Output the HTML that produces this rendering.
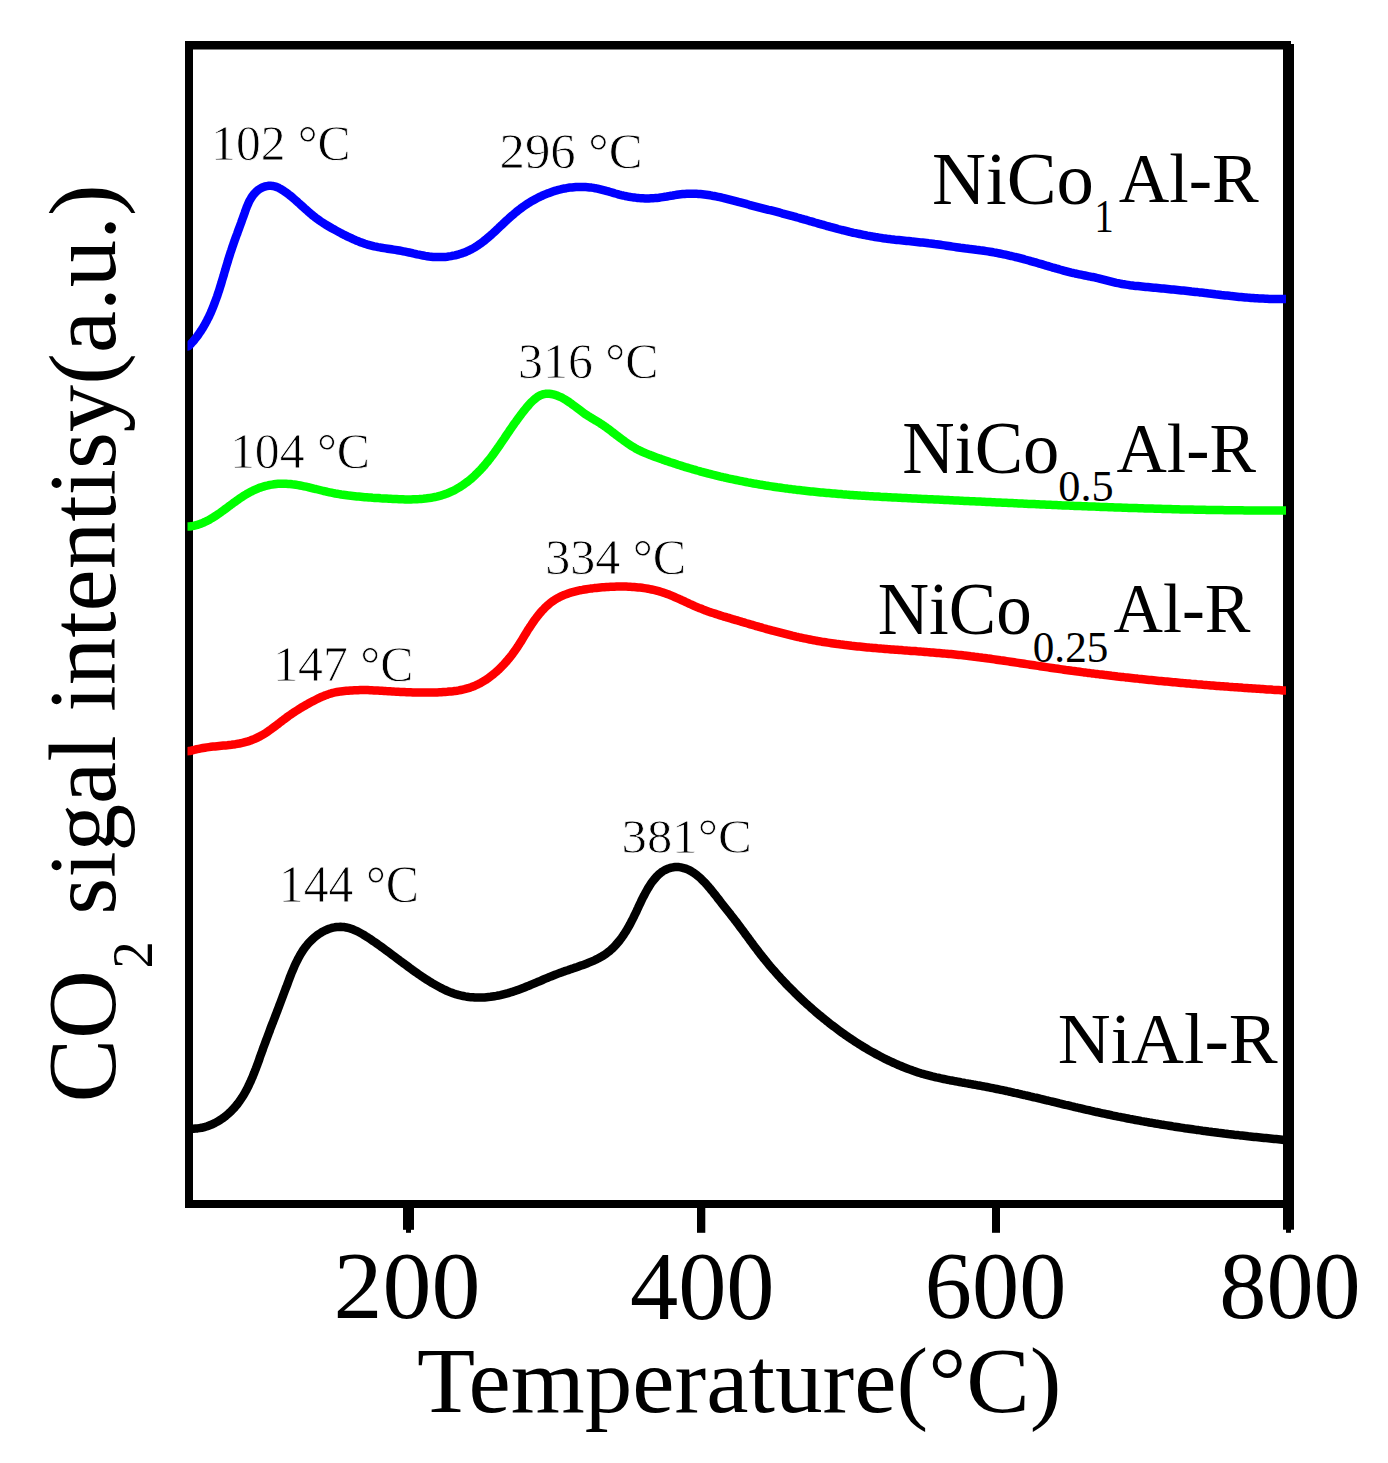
<!DOCTYPE html>
<html><head><meta charset="utf-8"><style>
html,body{margin:0;padding:0;background:#fff;}
svg{display:block;}
text{font-family:"Liberation Serif", serif;fill:#000;}
</style></head><body>
<svg width="1388" height="1463" viewBox="0 0 1388 1463">
<rect width="1388" height="1463" fill="#fff"/>
<text transform="matrix(0.9715 0.0000 0.0000 0.9886 211.11 159.71)" font-size="51" stroke="#fff" stroke-width="0.80">102 °C</text>
<text transform="matrix(0.9957 0.0000 0.0000 1.0114 499.51 168.39)" font-size="51" stroke="#fff" stroke-width="0.80">296 °C</text>
<text transform="matrix(0.9759 0.0000 0.0000 1.0000 229.90 468.00)" font-size="51" stroke="#fff" stroke-width="0.80">104 °C</text>
<text transform="matrix(0.9784 0.0000 0.0000 1.0114 518.04 378.39)" font-size="51" stroke="#fff" stroke-width="0.80">316 °C</text>
<text transform="matrix(0.9827 0.0000 0.0000 1.0114 545.13 574.49)" font-size="51" stroke="#fff" stroke-width="0.80">334 °C</text>
<text transform="matrix(0.9759 0.0000 0.0000 1.0114 273.20 680.99)" font-size="51" stroke="#fff" stroke-width="0.80">147 °C</text>
<text transform="matrix(0.9759 0.0000 0.0000 1.0143 278.80 901.69)" font-size="51" stroke="#fff" stroke-width="0.80">144 °C</text>
<text transform="matrix(0.9944 0.0000 0.0000 0.9457 621.61 853.15)" font-size="51" stroke="#fff" stroke-width="0.80">381°C</text>
<text transform="matrix(1.0096 0.0000 0.0000 1.0137 932.08 203.69)" font-size="74">NiCo</text>
<text transform="matrix(0.8933 0.0000 0.0000 1.0571 1094.43 231.60)" font-size="43">1</text>
<text transform="matrix(0.9469 0.0000 0.0000 0.9423 1118.65 202.00)" font-size="74">Al-R</text>
<text transform="matrix(0.9808 0.0000 0.0000 1.0000 902.14 473.00)" font-size="74">NiCo</text>
<text transform="matrix(1.0300 0.0000 0.0000 1.0464 1058.24 501.40)" font-size="43">0.5</text>
<text transform="matrix(0.9429 0.0000 0.0000 0.9385 1116.46 471.70)" font-size="74">Al-R</text>
<text transform="matrix(0.9603 0.0000 0.0000 1.0039 877.78 634.30)" font-size="74">NiCo</text>
<text transform="matrix(1.0042 0.0000 0.0000 1.0500 1032.79 662.30)" font-size="43">0.25</text>
<text transform="matrix(0.9259 0.0000 0.0000 0.9308 1113.47 632.40)" font-size="74">Al-R</text>
<text transform="matrix(0.9905 0.0000 0.0000 0.9846 1057.82 1063.40)" font-size="74">NiAl-R</text>
<text transform="matrix(1.0206 0.0000 0.0000 0.9985 333.42 1318.40)" font-size="96">200</text>
<text transform="matrix(1.0051 0.0000 0.0000 1.0046 629.89 1318.80)" font-size="96">400</text>
<text transform="matrix(0.9824 0.0000 0.0000 0.9985 924.87 1318.40)" font-size="96">600</text>
<text transform="matrix(0.9816 0.0000 0.0000 0.9985 1219.27 1318.40)" font-size="96">800</text>
<text transform="matrix(1.0020 0.0000 0.0000 0.9802 416.90 1411.90)" font-size="95">Temperature(°C)</text>
<text transform="matrix(0.0000 -1.0154 1.0365 0.0000 115.46 1102.56)" font-size="94">CO</text>
<text transform="matrix(0.0000 -0.9913 1.0528 0.0000 151.90 968.48)" font-size="55">2</text>
<text transform="matrix(0.0000 -1.0103 1.0224 0.0000 115.05 914.74)" font-size="94">sigal intentisy(a.u.)</text>
<clipPath id="pa"><rect x="187.5" y="49" width="1098.5" height="1151"/></clipPath>
<g fill="#000">
<rect x="185" y="41" width="1106" height="8.5"/>
<rect x="185" y="41" width="8" height="1167"/>
<rect x="1283" y="44" width="11" height="1164"/>
<rect x="185" y="1200" width="1109" height="8"/>
<rect x="403" y="1206" width="11" height="23.8"/>
<rect x="406" y="1206" width="5" height="26.8"/>
<rect x="697" y="1206" width="8.3" height="26.8"/>
<rect x="992" y="1206" width="8" height="26.8"/>
<rect x="1283" y="1206" width="11" height="23.7"/>
<rect x="1286" y="1206" width="5" height="26.8"/>
</g>
<g clip-path="url(#pa)">
<path d="M183.3 347.5 L188.7 346.1 L190.2 344.6 L191.5 343.1 L192.9 341.6 L194.2 340.1 L195.4 338.5 L196.7 337.0 L197.9 335.4 L199.0 333.7 L200.1 332.1 L201.2 330.5 L202.3 328.8 L203.3 327.1 L204.3 325.4 L205.3 323.7 L206.2 321.9 L207.1 320.2 L208.0 318.4 L208.9 316.7 L209.7 314.9 L210.6 313.1 L211.4 311.2 L212.1 309.4 L212.9 307.6 L213.6 305.7 L214.3 303.9 L215.0 302.0 L215.7 300.1 L216.4 298.3 L217.1 296.4 L217.7 294.5 L218.3 292.6 L219.0 290.7 L219.6 288.8 L220.2 286.8 L220.8 284.9 L221.4 283.0 L221.9 281.1 L222.5 279.1 L223.1 277.2 L223.7 275.3 L224.2 273.4 L224.8 271.4 L225.4 269.5 L225.9 267.6 L226.5 265.6 L227.1 263.7 L227.7 261.8 L228.2 259.9 L228.8 258.0 L229.4 256.1 L230.0 254.2 L230.6 252.3 L231.3 250.4 L231.9 248.5 L232.5 246.6 L233.2 244.8 L233.8 242.9 L234.5 241.0 L235.1 239.2 L235.8 237.3 L236.5 235.4 L237.2 233.6 L237.8 231.7 L238.5 229.9 L239.2 228.0 L239.9 226.1 L240.6 224.3 L241.3 222.4 L241.9 220.5 L242.6 218.6 L243.3 216.7 L244.0 214.8 L244.7 212.9 L245.3 211.0 L246.0 209.1 L246.7 207.2 L247.5 205.3 L248.3 203.5 L249.1 201.6 L250.1 199.8 L251.1 198.1 L252.2 196.4 L253.4 194.8 L254.7 193.2 L256.2 191.7 L257.7 190.3 L259.4 189.1 L261.1 188.1 L263.0 187.2 L264.9 186.5 L266.8 186.1 L268.8 185.8 L270.7 185.8 L272.6 185.9 L274.4 186.3 L276.2 186.9 L278.0 187.5 L279.6 188.4 L281.3 189.3 L282.9 190.3 L284.5 191.4 L286.1 192.5 L287.6 193.6 L289.1 194.8 L290.7 196.0 L292.2 197.3 L293.7 198.6 L295.2 199.9 L296.7 201.2 L298.2 202.6 L299.7 203.9 L301.2 205.3 L302.8 206.7 L304.3 208.1 L305.9 209.5 L307.5 210.9 L309.0 212.3 L310.6 213.6 L312.2 215.0 L313.9 216.3 L315.5 217.6 L317.1 218.8 L318.8 220.0 L320.4 221.2 L322.1 222.3 L323.8 223.4 L325.5 224.5 L327.2 225.5 L328.9 226.5 L330.6 227.5 L332.3 228.5 L334.1 229.4 L335.8 230.4 L337.6 231.4 L339.3 232.3 L341.1 233.2 L342.9 234.2 L344.7 235.1 L346.4 236.0 L348.2 236.8 L350.1 237.7 L351.9 238.5 L353.7 239.4 L355.5 240.2 L357.4 240.9 L359.2 241.7 L361.1 242.4 L362.9 243.0 L364.8 243.7 L366.7 244.3 L368.5 244.8 L370.4 245.3 L372.3 245.8 L374.2 246.3 L376.1 246.7 L378.0 247.1 L379.9 247.4 L381.8 247.8 L383.8 248.1 L385.7 248.4 L387.6 248.7 L389.6 249.0 L391.5 249.3 L393.4 249.6 L395.4 249.9 L397.4 250.2 L399.3 250.5 L401.3 250.9 L403.2 251.3 L405.2 251.7 L407.2 252.1 L409.2 252.5 L411.1 252.9 L413.1 253.4 L415.1 253.8 L417.1 254.3 L419.1 254.7 L421.1 255.1 L423.1 255.5 L425.1 255.9 L427.1 256.2 L429.1 256.5 L431.1 256.7 L433.1 256.9 L435.1 257.0 L437.1 257.1 L439.1 257.1 L441.1 257.1 L443.1 257.0 L445.1 256.9 L447.1 256.7 L449.1 256.4 L451.1 256.1 L453.0 255.7 L455.0 255.3 L456.9 254.8 L458.8 254.3 L460.7 253.7 L462.6 253.1 L464.5 252.4 L466.3 251.7 L468.1 250.9 L469.9 250.0 L471.7 249.1 L473.5 248.1 L475.2 247.1 L476.9 246.0 L478.5 244.9 L480.2 243.8 L481.8 242.6 L483.4 241.4 L485.0 240.1 L486.6 238.8 L488.1 237.5 L489.6 236.2 L491.2 234.9 L492.7 233.5 L494.2 232.1 L495.6 230.8 L497.1 229.4 L498.6 228.0 L500.0 226.6 L501.5 225.3 L502.9 223.9 L504.3 222.6 L505.8 221.2 L507.2 219.9 L508.7 218.6 L510.1 217.2 L511.6 215.9 L513.1 214.7 L514.6 213.4 L516.1 212.1 L517.6 210.9 L519.2 209.7 L520.7 208.5 L522.3 207.3 L524.0 206.1 L525.6 205.0 L527.3 203.9 L529.0 202.8 L530.8 201.7 L532.5 200.7 L534.3 199.7 L536.1 198.7 L537.9 197.8 L539.7 196.9 L541.6 196.0 L543.4 195.2 L545.3 194.4 L547.2 193.6 L549.1 192.9 L551.0 192.2 L552.9 191.5 L554.8 190.9 L556.7 190.4 L558.6 189.8 L560.5 189.4 L562.4 188.9 L564.3 188.5 L566.3 188.2 L568.2 187.8 L570.1 187.6 L572.0 187.4 L574.0 187.2 L575.9 187.0 L577.9 187.0 L579.8 186.9 L581.7 186.9 L583.7 187.0 L585.6 187.1 L587.6 187.2 L589.6 187.4 L591.5 187.6 L593.5 187.9 L595.4 188.3 L597.4 188.6 L599.4 189.1 L601.3 189.6 L603.3 190.1 L605.3 190.6 L607.3 191.2 L609.2 191.7 L611.2 192.3 L613.2 192.9 L615.2 193.5 L617.2 194.0 L619.1 194.6 L621.1 195.1 L623.1 195.5 L625.1 196.0 L627.1 196.4 L629.1 196.8 L631.1 197.1 L633.1 197.4 L635.0 197.6 L637.0 197.9 L639.0 198.1 L641.0 198.2 L643.0 198.3 L645.0 198.4 L647.0 198.4 L649.0 198.4 L651.0 198.3 L653.0 198.2 L654.9 198.1 L656.9 197.9 L658.9 197.7 L660.9 197.4 L662.9 197.1 L664.9 196.8 L666.9 196.5 L668.8 196.1 L670.8 195.8 L672.8 195.5 L674.8 195.1 L676.8 194.8 L678.8 194.5 L680.7 194.3 L682.7 194.1 L684.7 193.9 L686.7 193.8 L688.6 193.7 L690.6 193.7 L692.6 193.7 L694.5 193.7 L696.5 193.8 L698.4 193.9 L700.4 194.1 L702.4 194.3 L704.3 194.5 L706.3 194.7 L708.2 195.0 L710.2 195.3 L712.1 195.7 L714.1 196.0 L716.0 196.4 L718.0 196.8 L719.9 197.2 L721.9 197.7 L723.8 198.1 L725.8 198.6 L727.7 199.1 L729.7 199.6 L731.6 200.1 L733.6 200.6 L735.5 201.1 L737.4 201.6 L739.4 202.2 L741.3 202.7 L743.2 203.2 L745.2 203.7 L747.1 204.2 L749.1 204.8 L751.0 205.3 L752.9 205.8 L754.9 206.3 L756.8 206.8 L758.7 207.3 L760.7 207.8 L762.6 208.3 L764.5 208.8 L766.5 209.3 L768.4 209.8 L770.3 210.2 L772.2 210.7 L774.2 211.2 L776.1 211.7 L778.0 212.2 L780.0 212.7 L781.9 213.3 L783.8 213.8 L785.8 214.3 L787.7 214.8 L789.6 215.3 L791.5 215.8 L793.5 216.4 L795.4 216.9 L797.3 217.5 L799.3 218.0 L801.2 218.6 L803.1 219.1 L805.1 219.7 L807.0 220.2 L808.9 220.8 L810.9 221.3 L812.8 221.9 L814.7 222.5 L816.7 223.0 L818.6 223.6 L820.5 224.1 L822.5 224.7 L824.4 225.2 L826.3 225.8 L828.3 226.3 L830.2 226.9 L832.2 227.4 L834.1 227.9 L836.0 228.4 L838.0 229.0 L839.9 229.5 L841.9 230.0 L843.8 230.4 L845.8 230.9 L847.7 231.4 L849.6 231.9 L851.6 232.3 L853.5 232.8 L855.5 233.2 L857.5 233.6 L859.4 234.0 L861.4 234.4 L863.3 234.8 L865.3 235.2 L867.2 235.6 L869.2 235.9 L871.2 236.3 L873.1 236.6 L875.1 237.0 L877.1 237.3 L879.0 237.6 L881.0 237.9 L883.0 238.2 L884.9 238.4 L886.9 238.7 L888.9 238.9 L890.9 239.2 L892.9 239.4 L894.8 239.7 L896.8 239.9 L898.8 240.1 L900.8 240.3 L902.8 240.5 L904.7 240.7 L906.7 240.9 L908.7 241.1 L910.7 241.3 L912.7 241.6 L914.7 241.8 L916.7 242.0 L918.6 242.2 L920.6 242.4 L922.6 242.6 L924.6 242.8 L926.6 243.0 L928.6 243.3 L930.6 243.5 L932.6 243.7 L934.6 244.0 L936.5 244.2 L938.5 244.5 L940.5 244.8 L942.5 245.1 L944.5 245.4 L946.5 245.7 L948.5 246.0 L950.4 246.3 L952.4 246.6 L954.4 246.9 L956.4 247.2 L958.4 247.5 L960.4 247.8 L962.3 248.0 L964.3 248.3 L966.3 248.6 L968.3 248.8 L970.2 249.1 L972.2 249.3 L974.2 249.5 L976.2 249.8 L978.1 250.0 L980.1 250.3 L982.1 250.5 L984.0 250.8 L986.0 251.1 L987.9 251.4 L989.9 251.7 L991.9 252.0 L993.8 252.4 L995.8 252.7 L997.7 253.1 L999.7 253.5 L1001.6 253.9 L1003.6 254.3 L1005.5 254.7 L1007.4 255.1 L1009.4 255.6 L1011.3 256.0 L1013.3 256.5 L1015.2 257.0 L1017.1 257.4 L1019.1 257.9 L1021.0 258.4 L1023.0 258.9 L1024.9 259.5 L1026.8 260.0 L1028.8 260.5 L1030.7 261.1 L1032.6 261.6 L1034.6 262.2 L1036.5 262.7 L1038.4 263.3 L1040.4 263.8 L1042.3 264.4 L1044.2 265.0 L1046.2 265.6 L1048.1 266.1 L1050.0 266.7 L1052.0 267.3 L1053.9 267.8 L1055.8 268.4 L1057.8 268.9 L1059.7 269.5 L1061.6 270.0 L1063.6 270.6 L1065.5 271.1 L1067.4 271.6 L1069.4 272.1 L1071.3 272.6 L1073.3 273.0 L1075.2 273.5 L1077.1 273.9 L1079.1 274.3 L1081.0 274.7 L1083.0 275.1 L1084.9 275.5 L1086.9 275.9 L1088.8 276.3 L1090.8 276.7 L1092.7 277.0 L1094.7 277.4 L1096.6 277.9 L1098.6 278.3 L1100.5 278.8 L1102.5 279.3 L1104.5 279.8 L1106.4 280.3 L1108.4 280.8 L1110.3 281.3 L1112.3 281.8 L1114.3 282.3 L1116.2 282.8 L1118.2 283.2 L1120.2 283.6 L1122.1 284.0 L1124.1 284.3 L1126.1 284.6 L1128.0 284.9 L1130.0 285.2 L1132.0 285.4 L1133.9 285.7 L1135.9 285.9 L1137.9 286.1 L1139.9 286.3 L1141.8 286.5 L1143.8 286.7 L1145.8 286.9 L1147.8 287.1 L1149.7 287.3 L1151.7 287.5 L1153.7 287.7 L1155.7 287.8 L1157.7 288.0 L1159.6 288.2 L1161.6 288.4 L1163.6 288.6 L1165.6 288.8 L1167.6 289.0 L1169.6 289.2 L1171.5 289.4 L1173.5 289.6 L1175.5 289.8 L1177.5 290.0 L1179.5 290.2 L1181.5 290.4 L1183.5 290.6 L1185.4 290.8 L1187.4 291.0 L1189.4 291.2 L1191.4 291.5 L1193.4 291.7 L1195.4 291.9 L1197.4 292.1 L1199.4 292.4 L1201.4 292.6 L1203.4 292.8 L1205.3 293.1 L1207.3 293.3 L1209.3 293.6 L1211.3 293.8 L1213.3 294.0 L1215.3 294.3 L1217.3 294.5 L1219.3 294.7 L1221.3 295.0 L1223.3 295.2 L1225.3 295.4 L1227.3 295.6 L1229.3 295.8 L1231.3 296.1 L1233.3 296.3 L1235.3 296.5 L1237.3 296.7 L1239.2 296.9 L1241.2 297.0 L1243.2 297.2 L1245.2 297.4 L1247.2 297.6 L1249.2 297.7 L1251.2 297.9 L1253.2 298.0 L1255.2 298.2 L1257.2 298.3 L1259.2 298.4 L1261.2 298.5 L1263.2 298.6 L1265.2 298.7 L1267.2 298.8 L1269.2 298.9 L1271.2 298.9 L1273.2 299.0 L1275.2 299.0 L1277.2 299.0 L1279.1 299.0 L1281.1 299.0 L1283.1 299.0 L1285.1 298.9 L1290.0 298.9" fill="none" stroke="#0000ff" stroke-width="8.5" stroke-linejoin="round" stroke-linecap="butt"/>
<path d="M183.5 526.7 L189.4 526.5 L191.4 526.2 L193.4 525.9 L195.3 525.4 L197.2 524.9 L199.1 524.2 L201.0 523.6 L202.9 522.8 L204.7 522.0 L206.6 521.1 L208.4 520.2 L210.2 519.2 L211.9 518.2 L213.6 517.1 L215.4 516.0 L217.0 514.9 L218.7 513.8 L220.4 512.6 L222.0 511.4 L223.7 510.2 L225.3 509.0 L226.9 507.8 L228.5 506.6 L230.1 505.5 L231.6 504.3 L233.2 503.1 L234.8 502.0 L236.4 500.8 L238.0 499.7 L239.6 498.6 L241.2 497.5 L242.8 496.4 L244.4 495.4 L246.1 494.4 L247.7 493.4 L249.4 492.5 L251.1 491.6 L252.9 490.7 L254.7 489.9 L256.5 489.1 L258.3 488.3 L260.2 487.6 L262.1 487.0 L264.1 486.4 L266.0 485.8 L268.0 485.4 L270.0 484.9 L272.1 484.6 L274.1 484.3 L276.1 484.0 L278.1 483.8 L280.1 483.7 L282.2 483.7 L284.2 483.7 L286.2 483.8 L288.2 483.9 L290.2 484.0 L292.2 484.3 L294.1 484.5 L296.1 484.8 L298.1 485.1 L300.1 485.5 L302.1 485.9 L304.0 486.3 L306.0 486.7 L308.0 487.1 L309.9 487.6 L311.9 488.1 L313.8 488.6 L315.8 489.0 L317.8 489.5 L319.7 490.0 L321.7 490.5 L323.6 491.0 L325.6 491.4 L327.5 491.9 L329.5 492.3 L331.4 492.7 L333.4 493.1 L335.3 493.5 L337.3 493.8 L339.2 494.1 L341.2 494.5 L343.1 494.7 L345.1 495.0 L347.0 495.3 L349.0 495.6 L350.9 495.8 L352.9 496.0 L354.9 496.2 L356.8 496.4 L358.8 496.6 L360.8 496.8 L362.7 497.0 L364.7 497.2 L366.7 497.3 L368.7 497.5 L370.7 497.6 L372.6 497.8 L374.6 497.9 L376.6 498.0 L378.6 498.1 L380.6 498.3 L382.7 498.4 L384.7 498.5 L386.7 498.6 L388.7 498.7 L390.7 498.8 L392.8 498.9 L394.8 499.0 L396.8 499.1 L398.9 499.2 L400.9 499.3 L403.0 499.3 L405.0 499.4 L407.0 499.4 L409.1 499.4 L411.1 499.4 L413.1 499.3 L415.1 499.3 L417.2 499.2 L419.2 499.1 L421.2 498.9 L423.2 498.8 L425.2 498.6 L427.2 498.3 L429.1 498.1 L431.1 497.8 L433.0 497.4 L435.0 497.0 L436.9 496.6 L438.8 496.1 L440.7 495.6 L442.6 495.0 L444.5 494.4 L446.3 493.8 L448.2 493.0 L450.0 492.3 L451.8 491.4 L453.6 490.6 L455.4 489.7 L457.1 488.7 L458.8 487.7 L460.5 486.6 L462.2 485.5 L463.9 484.4 L465.5 483.2 L467.1 482.0 L468.7 480.8 L470.3 479.5 L471.8 478.2 L473.3 476.9 L474.8 475.5 L476.2 474.1 L477.6 472.7 L479.0 471.3 L480.4 469.9 L481.8 468.4 L483.1 466.9 L484.4 465.5 L485.7 463.9 L486.9 462.4 L488.2 460.9 L489.4 459.3 L490.6 457.8 L491.8 456.2 L493.0 454.6 L494.2 453.0 L495.3 451.4 L496.5 449.8 L497.6 448.1 L498.8 446.5 L499.9 444.9 L501.0 443.2 L502.1 441.6 L503.3 439.9 L504.4 438.3 L505.5 436.6 L506.6 434.9 L507.7 433.3 L508.9 431.6 L510.0 429.9 L511.1 428.3 L512.3 426.6 L513.4 425.0 L514.6 423.3 L515.8 421.7 L517.0 420.0 L518.2 418.4 L519.4 416.7 L520.6 415.1 L521.8 413.5 L523.1 411.8 L524.4 410.2 L525.7 408.6 L527.0 407.0 L528.4 405.5 L529.7 403.9 L531.1 402.4 L532.6 401.0 L534.1 399.6 L535.6 398.4 L537.1 397.2 L538.7 396.2 L540.3 395.3 L542.0 394.7 L543.8 394.2 L545.5 393.8 L547.4 393.7 L549.3 393.8 L551.1 394.0 L553.1 394.4 L555.0 394.9 L556.9 395.5 L558.8 396.3 L560.7 397.1 L562.6 398.1 L564.4 399.1 L566.2 400.2 L568.0 401.4 L569.8 402.6 L571.5 403.8 L573.2 405.1 L575.0 406.4 L576.6 407.6 L578.3 408.9 L580.0 410.2 L581.6 411.4 L583.2 412.6 L584.8 413.8 L586.4 414.8 L587.9 415.9 L589.5 416.8 L591.0 417.8 L592.6 418.7 L594.1 419.6 L595.6 420.5 L597.2 421.4 L598.7 422.3 L600.2 423.3 L601.8 424.3 L603.4 425.4 L604.9 426.5 L606.5 427.6 L608.1 428.8 L609.8 430.0 L611.4 431.3 L613.0 432.5 L614.7 433.8 L616.3 435.1 L618.0 436.3 L619.7 437.6 L621.4 438.9 L623.1 440.1 L624.8 441.4 L626.5 442.6 L628.2 443.8 L630.0 445.0 L631.7 446.1 L633.5 447.2 L635.2 448.2 L637.0 449.2 L638.8 450.1 L640.6 451.0 L642.4 451.8 L644.2 452.6 L646.0 453.4 L647.8 454.1 L649.7 454.9 L651.5 455.5 L653.3 456.2 L655.2 456.9 L657.0 457.6 L658.9 458.3 L660.8 458.9 L662.6 459.6 L664.5 460.2 L666.4 460.9 L668.3 461.5 L670.2 462.2 L672.1 462.8 L674.0 463.4 L675.9 464.0 L677.8 464.7 L679.7 465.3 L681.6 465.9 L683.5 466.5 L685.4 467.1 L687.4 467.6 L689.3 468.2 L691.2 468.8 L693.2 469.4 L695.1 469.9 L697.0 470.5 L699.0 471.0 L700.9 471.6 L702.9 472.1 L704.8 472.6 L706.8 473.1 L708.7 473.7 L710.7 474.2 L712.6 474.7 L714.6 475.1 L716.5 475.6 L718.5 476.1 L720.4 476.6 L722.4 477.0 L724.3 477.5 L726.3 477.9 L728.2 478.4 L730.2 478.8 L732.1 479.2 L734.1 479.6 L736.1 480.0 L738.0 480.4 L740.0 480.8 L741.9 481.2 L743.9 481.6 L745.9 482.0 L747.8 482.4 L749.8 482.7 L751.7 483.1 L753.7 483.5 L755.7 483.8 L757.6 484.1 L759.6 484.5 L761.6 484.8 L763.5 485.1 L765.5 485.5 L767.5 485.8 L769.4 486.1 L771.4 486.4 L773.4 486.7 L775.3 487.0 L777.3 487.3 L779.3 487.5 L781.2 487.8 L783.2 488.1 L785.2 488.4 L787.2 488.6 L789.1 488.9 L791.1 489.1 L793.1 489.4 L795.0 489.6 L797.0 489.9 L799.0 490.1 L801.0 490.3 L803.0 490.6 L804.9 490.8 L806.9 491.0 L808.9 491.2 L810.9 491.4 L812.8 491.6 L814.8 491.8 L816.8 492.0 L818.8 492.2 L820.8 492.4 L822.7 492.6 L824.7 492.8 L826.7 493.0 L828.7 493.1 L830.7 493.3 L832.7 493.5 L834.6 493.6 L836.6 493.8 L838.6 494.0 L840.6 494.1 L842.6 494.3 L844.6 494.4 L846.5 494.6 L848.5 494.7 L850.5 494.9 L852.5 495.0 L854.5 495.2 L856.5 495.3 L858.5 495.4 L860.5 495.6 L862.4 495.7 L864.4 495.8 L866.4 495.9 L868.4 496.1 L870.4 496.2 L872.4 496.3 L874.4 496.4 L876.4 496.5 L878.4 496.6 L880.4 496.8 L882.4 496.9 L884.4 497.0 L886.3 497.1 L888.3 497.2 L890.3 497.3 L892.3 497.4 L894.3 497.5 L896.3 497.6 L898.3 497.7 L900.3 497.8 L902.3 497.9 L904.3 498.0 L906.3 498.1 L908.3 498.2 L910.3 498.3 L912.3 498.4 L914.3 498.5 L916.3 498.6 L918.3 498.7 L920.3 498.8 L922.3 498.9 L924.3 499.0 L926.3 499.1 L928.3 499.2 L930.3 499.2 L932.3 499.3 L934.3 499.4 L936.3 499.5 L938.3 499.6 L940.3 499.7 L942.3 499.8 L944.3 499.9 L946.3 500.0 L948.3 500.1 L950.3 500.2 L952.3 500.3 L954.3 500.4 L956.3 500.5 L958.3 500.6 L960.3 500.7 L962.3 500.8 L964.3 500.9 L966.3 501.0 L968.3 501.1 L970.3 501.2 L972.3 501.2 L974.3 501.3 L976.3 501.4 L978.3 501.5 L980.3 501.6 L982.3 501.7 L984.3 501.8 L986.3 501.9 L988.3 502.0 L990.3 502.1 L992.3 502.2 L994.4 502.3 L996.4 502.4 L998.4 502.5 L1000.4 502.6 L1002.4 502.7 L1004.4 502.8 L1006.4 502.8 L1008.4 502.9 L1010.4 503.0 L1012.4 503.1 L1014.4 503.2 L1016.4 503.3 L1018.4 503.4 L1020.4 503.5 L1022.4 503.6 L1024.4 503.7 L1026.4 503.8 L1028.4 503.9 L1030.5 503.9 L1032.5 504.0 L1034.5 504.1 L1036.5 504.2 L1038.5 504.3 L1040.5 504.4 L1042.5 504.5 L1044.5 504.6 L1046.5 504.7 L1048.5 504.7 L1050.5 504.8 L1052.5 504.9 L1054.5 505.0 L1056.5 505.1 L1058.5 505.2 L1060.5 505.3 L1062.6 505.4 L1064.6 505.4 L1066.6 505.5 L1068.6 505.6 L1070.6 505.7 L1072.6 505.8 L1074.6 505.9 L1076.6 505.9 L1078.6 506.0 L1080.6 506.1 L1082.6 506.2 L1084.6 506.3 L1086.6 506.3 L1088.6 506.4 L1090.6 506.5 L1092.6 506.6 L1094.6 506.6 L1096.6 506.7 L1098.7 506.8 L1100.7 506.9 L1102.7 506.9 L1104.7 507.0 L1106.7 507.1 L1108.7 507.2 L1110.7 507.2 L1112.7 507.3 L1114.7 507.4 L1116.7 507.5 L1118.7 507.5 L1120.7 507.6 L1122.7 507.7 L1124.7 507.7 L1126.7 507.8 L1128.7 507.9 L1130.7 507.9 L1132.7 508.0 L1134.7 508.1 L1136.7 508.1 L1138.7 508.2 L1140.7 508.3 L1142.7 508.3 L1144.7 508.4 L1146.7 508.4 L1148.7 508.5 L1150.7 508.6 L1152.7 508.6 L1154.7 508.7 L1156.7 508.7 L1158.7 508.8 L1160.7 508.8 L1162.7 508.9 L1164.7 509.0 L1166.7 509.0 L1168.7 509.1 L1170.7 509.1 L1172.7 509.2 L1174.7 509.2 L1176.7 509.3 L1178.7 509.3 L1180.7 509.4 L1182.7 509.4 L1184.7 509.4 L1186.7 509.5 L1188.7 509.5 L1190.7 509.6 L1192.7 509.6 L1194.7 509.7 L1196.7 509.7 L1198.7 509.7 L1200.7 509.8 L1202.7 509.8 L1204.7 509.8 L1206.7 509.9 L1208.7 509.9 L1210.7 509.9 L1212.7 510.0 L1214.6 510.0 L1216.6 510.0 L1218.6 510.1 L1220.6 510.1 L1222.6 510.1 L1224.6 510.2 L1226.6 510.2 L1228.6 510.2 L1230.6 510.2 L1232.6 510.2 L1234.6 510.3 L1236.5 510.3 L1238.5 510.3 L1240.5 510.3 L1242.5 510.3 L1244.5 510.4 L1246.5 510.4 L1248.5 510.4 L1250.5 510.4 L1252.4 510.4 L1254.4 510.4 L1256.4 510.4 L1258.4 510.4 L1260.4 510.4 L1262.4 510.4 L1264.3 510.4 L1266.3 510.4 L1268.3 510.4 L1270.3 510.4 L1272.3 510.4 L1274.3 510.4 L1276.2 510.4 L1278.2 510.4 L1280.2 510.4 L1282.2 510.4 L1284.1 510.4 L1290.0 510.4" fill="none" stroke="#00ff00" stroke-width="8.5" stroke-linejoin="round" stroke-linecap="butt"/>
<path d="M183.5 751.6 L189.4 751.1 L191.3 750.6 L193.2 750.1 L195.1 749.7 L197.0 749.2 L198.9 748.8 L200.9 748.4 L202.9 748.0 L204.9 747.7 L206.9 747.4 L208.9 747.1 L211.0 746.8 L213.0 746.6 L215.1 746.4 L217.2 746.2 L219.2 746.0 L221.3 745.8 L223.3 745.6 L225.4 745.4 L227.4 745.2 L229.5 744.9 L231.5 744.7 L233.5 744.4 L235.5 744.2 L237.4 743.8 L239.4 743.5 L241.3 743.1 L243.2 742.7 L245.1 742.2 L246.9 741.7 L248.8 741.1 L250.6 740.5 L252.3 739.8 L254.1 739.1 L255.8 738.3 L257.6 737.5 L259.3 736.7 L260.9 735.8 L262.6 734.8 L264.3 733.8 L266.0 732.8 L267.6 731.7 L269.2 730.6 L270.9 729.4 L272.5 728.2 L274.1 727.0 L275.8 725.8 L277.4 724.5 L279.0 723.3 L280.6 722.0 L282.3 720.8 L283.9 719.5 L285.5 718.3 L287.2 717.0 L288.8 715.8 L290.5 714.7 L292.2 713.5 L293.9 712.4 L295.6 711.3 L297.3 710.2 L299.0 709.1 L300.7 708.0 L302.4 707.0 L304.2 706.0 L305.9 705.0 L307.7 704.0 L309.4 703.0 L311.2 702.0 L313.0 701.1 L314.8 700.2 L316.6 699.3 L318.4 698.4 L320.2 697.5 L322.0 696.7 L323.9 696.0 L325.7 695.2 L327.6 694.6 L329.4 693.9 L331.3 693.4 L333.1 692.8 L335.0 692.4 L336.9 692.0 L338.8 691.7 L340.7 691.4 L342.6 691.2 L344.5 691.0 L346.4 690.8 L348.3 690.7 L350.3 690.5 L352.2 690.4 L354.2 690.3 L356.1 690.2 L358.1 690.2 L360.0 690.1 L362.0 690.1 L364.0 690.1 L365.9 690.1 L367.9 690.1 L369.9 690.2 L371.9 690.3 L373.9 690.4 L375.9 690.5 L377.9 690.6 L379.9 690.7 L382.0 690.8 L384.0 690.9 L386.0 691.1 L388.1 691.2 L390.1 691.3 L392.1 691.4 L394.2 691.6 L396.2 691.7 L398.3 691.8 L400.4 691.9 L402.4 692.0 L404.5 692.1 L406.5 692.2 L408.6 692.3 L410.7 692.3 L412.7 692.4 L414.8 692.5 L416.8 692.5 L418.9 692.5 L421.0 692.6 L423.0 692.6 L425.1 692.6 L427.1 692.6 L429.1 692.6 L431.2 692.5 L433.2 692.5 L435.2 692.4 L437.3 692.4 L439.3 692.3 L441.3 692.2 L443.3 692.0 L445.2 691.9 L447.2 691.8 L449.2 691.6 L451.1 691.4 L453.1 691.2 L455.0 690.9 L457.0 690.7 L458.9 690.4 L460.8 690.0 L462.7 689.6 L464.5 689.2 L466.4 688.7 L468.2 688.2 L470.1 687.6 L471.9 686.9 L473.7 686.3 L475.4 685.5 L477.2 684.7 L479.0 683.8 L480.7 682.9 L482.4 681.9 L484.1 680.9 L485.8 679.9 L487.4 678.8 L489.0 677.6 L490.6 676.4 L492.2 675.2 L493.8 673.9 L495.3 672.6 L496.9 671.2 L498.4 669.9 L499.8 668.5 L501.3 667.0 L502.7 665.6 L504.1 664.1 L505.5 662.5 L506.9 661.0 L508.2 659.4 L509.5 657.9 L510.8 656.3 L512.0 654.7 L513.2 653.0 L514.4 651.4 L515.6 649.8 L516.7 648.1 L517.8 646.5 L518.9 644.8 L519.9 643.1 L521.0 641.5 L522.0 639.8 L523.0 638.1 L524.0 636.4 L525.0 634.8 L526.1 633.1 L527.1 631.4 L528.1 629.7 L529.2 628.1 L530.3 626.4 L531.4 624.8 L532.5 623.1 L533.6 621.5 L534.8 619.8 L536.0 618.2 L537.2 616.6 L538.5 615.0 L539.8 613.4 L541.1 611.9 L542.5 610.3 L543.9 608.9 L545.3 607.4 L546.8 606.0 L548.3 604.7 L549.8 603.4 L551.4 602.2 L553.0 601.0 L554.6 599.9 L556.3 598.9 L558.0 597.9 L559.7 597.0 L561.5 596.1 L563.3 595.3 L565.1 594.6 L567.0 593.9 L568.8 593.2 L570.7 592.6 L572.6 592.1 L574.6 591.6 L576.5 591.1 L578.5 590.6 L580.4 590.2 L582.4 589.9 L584.4 589.5 L586.4 589.2 L588.4 588.9 L590.4 588.6 L592.4 588.4 L594.4 588.1 L596.4 587.9 L598.4 587.7 L600.4 587.5 L602.4 587.3 L604.4 587.2 L606.4 587.0 L608.4 586.9 L610.4 586.8 L612.4 586.7 L614.4 586.7 L616.4 586.6 L618.4 586.6 L620.4 586.6 L622.4 586.6 L624.3 586.6 L626.3 586.6 L628.3 586.7 L630.3 586.8 L632.2 586.9 L634.2 587.0 L636.2 587.2 L638.1 587.4 L640.1 587.6 L642.0 587.8 L644.0 588.1 L645.9 588.4 L647.9 588.7 L649.8 589.1 L651.7 589.5 L653.7 589.9 L655.6 590.3 L657.5 590.8 L659.4 591.4 L661.3 592.0 L663.3 592.6 L665.2 593.2 L667.1 593.9 L669.0 594.6 L670.8 595.4 L672.7 596.2 L674.6 597.0 L676.5 597.8 L678.4 598.6 L680.3 599.5 L682.1 600.3 L684.0 601.2 L685.9 602.1 L687.7 602.9 L689.6 603.8 L691.5 604.6 L693.3 605.5 L695.2 606.3 L697.0 607.1 L698.9 607.9 L700.8 608.6 L702.6 609.3 L704.5 610.1 L706.3 610.7 L708.2 611.4 L710.0 612.1 L711.9 612.7 L713.8 613.3 L715.6 613.9 L717.5 614.5 L719.4 615.1 L721.2 615.7 L723.1 616.3 L725.0 616.8 L726.8 617.4 L728.7 617.9 L730.6 618.5 L732.5 619.1 L734.3 619.6 L736.2 620.2 L738.1 620.7 L740.0 621.3 L741.9 621.9 L743.8 622.4 L745.7 623.0 L747.6 623.5 L749.5 624.1 L751.4 624.7 L753.4 625.2 L755.3 625.8 L757.2 626.3 L759.1 626.9 L761.0 627.4 L763.0 628.0 L764.9 628.5 L766.8 629.1 L768.8 629.6 L770.7 630.1 L772.6 630.7 L774.6 631.2 L776.5 631.7 L778.5 632.2 L780.4 632.7 L782.4 633.2 L784.3 633.7 L786.3 634.2 L788.2 634.7 L790.2 635.2 L792.1 635.7 L794.1 636.1 L796.1 636.6 L798.0 637.0 L800.0 637.5 L802.0 637.9 L803.9 638.3 L805.9 638.7 L807.9 639.1 L809.8 639.5 L811.8 639.9 L813.8 640.3 L815.8 640.6 L817.7 641.0 L819.7 641.3 L821.7 641.7 L823.7 642.0 L825.7 642.3 L827.7 642.6 L829.6 642.9 L831.6 643.2 L833.6 643.5 L835.6 643.8 L837.6 644.1 L839.6 644.3 L841.6 644.6 L843.5 644.8 L845.5 645.1 L847.5 645.3 L849.5 645.5 L851.5 645.8 L853.5 646.0 L855.5 646.2 L857.5 646.4 L859.5 646.6 L861.4 646.8 L863.4 647.0 L865.4 647.2 L867.4 647.4 L869.4 647.6 L871.4 647.7 L873.4 647.9 L875.4 648.1 L877.4 648.3 L879.4 648.4 L881.3 648.6 L883.3 648.7 L885.3 648.9 L887.3 649.1 L889.3 649.2 L891.3 649.4 L893.3 649.5 L895.3 649.7 L897.3 649.8 L899.2 650.0 L901.2 650.1 L903.2 650.3 L905.2 650.4 L907.2 650.6 L909.2 650.7 L911.2 650.9 L913.2 651.0 L915.1 651.1 L917.1 651.3 L919.1 651.4 L921.1 651.6 L923.1 651.7 L925.1 651.9 L927.1 652.1 L929.0 652.2 L931.0 652.4 L933.0 652.5 L935.0 652.7 L937.0 652.9 L939.0 653.0 L941.0 653.2 L942.9 653.4 L944.9 653.6 L946.9 653.7 L948.9 653.9 L950.9 654.1 L952.9 654.3 L954.9 654.5 L956.8 654.7 L958.8 654.9 L960.8 655.1 L962.8 655.3 L964.8 655.6 L966.8 655.8 L968.7 656.0 L970.7 656.3 L972.7 656.5 L974.7 656.8 L976.7 657.0 L978.7 657.3 L980.6 657.5 L982.6 657.8 L984.6 658.0 L986.6 658.3 L988.6 658.6 L990.6 658.8 L992.5 659.1 L994.5 659.4 L996.5 659.7 L998.5 660.0 L1000.5 660.3 L1002.5 660.5 L1004.4 660.8 L1006.4 661.1 L1008.4 661.4 L1010.4 661.7 L1012.4 662.0 L1014.4 662.3 L1016.3 662.6 L1018.3 662.9 L1020.3 663.2 L1022.3 663.5 L1024.3 663.8 L1026.3 664.1 L1028.2 664.4 L1030.2 664.7 L1032.2 665.0 L1034.2 665.3 L1036.2 665.6 L1038.2 665.9 L1040.1 666.2 L1042.1 666.5 L1044.1 666.8 L1046.1 667.1 L1048.1 667.4 L1050.1 667.7 L1052.0 668.0 L1054.0 668.3 L1056.0 668.6 L1058.0 668.8 L1060.0 669.1 L1062.0 669.4 L1063.9 669.7 L1065.9 670.0 L1067.9 670.2 L1069.9 670.5 L1071.9 670.8 L1073.9 671.0 L1075.8 671.3 L1077.8 671.6 L1079.8 671.8 L1081.8 672.1 L1083.8 672.4 L1085.8 672.6 L1087.7 672.9 L1089.7 673.1 L1091.7 673.4 L1093.7 673.6 L1095.7 673.9 L1097.7 674.1 L1099.7 674.4 L1101.6 674.6 L1103.6 674.8 L1105.6 675.1 L1107.6 675.3 L1109.6 675.5 L1111.6 675.8 L1113.5 676.0 L1115.5 676.2 L1117.5 676.5 L1119.5 676.7 L1121.5 676.9 L1123.5 677.1 L1125.5 677.4 L1127.4 677.6 L1129.4 677.8 L1131.4 678.0 L1133.4 678.2 L1135.4 678.4 L1137.4 678.6 L1139.4 678.9 L1141.3 679.1 L1143.3 679.3 L1145.3 679.5 L1147.3 679.7 L1149.3 679.9 L1151.3 680.1 L1153.3 680.3 L1155.3 680.5 L1157.2 680.7 L1159.2 680.9 L1161.2 681.0 L1163.2 681.2 L1165.2 681.4 L1167.2 681.6 L1169.2 681.8 L1171.2 682.0 L1173.1 682.2 L1175.1 682.3 L1177.1 682.5 L1179.1 682.7 L1181.1 682.9 L1183.1 683.1 L1185.1 683.2 L1187.1 683.4 L1189.1 683.6 L1191.1 683.8 L1193.0 683.9 L1195.0 684.1 L1197.0 684.3 L1199.0 684.4 L1201.0 684.6 L1203.0 684.8 L1205.0 684.9 L1207.0 685.1 L1209.0 685.2 L1211.0 685.4 L1213.0 685.5 L1215.0 685.7 L1216.9 685.9 L1218.9 686.0 L1220.9 686.2 L1222.9 686.3 L1224.9 686.5 L1226.9 686.6 L1228.9 686.8 L1230.9 686.9 L1232.9 687.1 L1234.9 687.2 L1236.9 687.3 L1238.9 687.5 L1240.9 687.6 L1242.9 687.8 L1244.9 687.9 L1246.9 688.0 L1248.9 688.2 L1250.9 688.3 L1252.9 688.5 L1254.9 688.6 L1256.8 688.7 L1258.8 688.8 L1260.8 689.0 L1262.8 689.1 L1264.8 689.2 L1266.8 689.4 L1268.8 689.5 L1270.8 689.6 L1272.8 689.8 L1274.8 689.9 L1276.8 690.0 L1278.8 690.1 L1280.8 690.2 L1282.8 690.4 L1284.8 690.5 L1290.0 690.6" fill="none" stroke="#ff0000" stroke-width="8.5" stroke-linejoin="round" stroke-linecap="butt"/>
<path d="M183.5 1128.6 L189.5 1128.7 L191.5 1128.8 L193.5 1128.8 L195.5 1128.6 L197.5 1128.4 L199.5 1128.1 L201.5 1127.8 L203.4 1127.3 L205.4 1126.8 L207.3 1126.2 L209.2 1125.5 L211.0 1124.8 L212.9 1124.0 L214.7 1123.1 L216.5 1122.1 L218.2 1121.2 L219.9 1120.1 L221.6 1119.0 L223.3 1117.9 L224.9 1116.7 L226.4 1115.4 L227.9 1114.1 L229.4 1112.8 L230.8 1111.4 L232.2 1110.0 L233.6 1108.6 L234.9 1107.1 L236.1 1105.6 L237.4 1104.1 L238.6 1102.5 L239.7 1101.0 L240.8 1099.3 L241.9 1097.7 L243.0 1096.0 L244.0 1094.3 L245.0 1092.6 L245.9 1090.9 L246.9 1089.1 L247.8 1087.3 L248.7 1085.5 L249.5 1083.7 L250.4 1081.9 L251.2 1080.1 L252.0 1078.2 L252.8 1076.4 L253.5 1074.5 L254.3 1072.6 L255.0 1070.7 L255.8 1068.8 L256.5 1066.9 L257.2 1065.0 L257.9 1063.1 L258.6 1061.2 L259.3 1059.3 L259.9 1057.3 L260.6 1055.4 L261.3 1053.5 L262.0 1051.6 L262.7 1049.7 L263.3 1047.8 L264.0 1046.0 L264.7 1044.1 L265.4 1042.2 L266.1 1040.3 L266.8 1038.5 L267.5 1036.6 L268.2 1034.8 L268.9 1032.9 L269.6 1031.1 L270.2 1029.2 L270.9 1027.4 L271.6 1025.6 L272.3 1023.7 L273.1 1021.9 L273.8 1020.0 L274.5 1018.2 L275.2 1016.4 L275.9 1014.5 L276.6 1012.7 L277.3 1010.9 L278.0 1009.0 L278.7 1007.2 L279.4 1005.3 L280.1 1003.5 L280.8 1001.6 L281.5 999.8 L282.2 997.9 L282.9 996.0 L283.6 994.1 L284.3 992.3 L285.0 990.4 L285.7 988.5 L286.5 986.6 L287.2 984.7 L287.9 982.8 L288.6 980.9 L289.3 979.0 L290.0 977.0 L290.8 975.1 L291.5 973.2 L292.3 971.3 L293.1 969.5 L293.9 967.6 L294.7 965.7 L295.5 963.9 L296.4 962.1 L297.3 960.3 L298.2 958.5 L299.2 956.7 L300.1 955.0 L301.2 953.3 L302.2 951.6 L303.3 949.9 L304.5 948.3 L305.6 946.7 L306.9 945.2 L308.1 943.7 L309.5 942.2 L310.8 940.8 L312.3 939.4 L313.7 938.0 L315.3 936.7 L316.8 935.5 L318.5 934.3 L320.2 933.2 L321.9 932.1 L323.6 931.2 L325.4 930.3 L327.3 929.5 L329.1 928.8 L331.0 928.2 L332.9 927.7 L334.8 927.3 L336.7 927.0 L338.6 926.9 L340.5 926.8 L342.5 926.9 L344.4 927.1 L346.3 927.5 L348.2 927.9 L350.1 928.4 L352.0 929.1 L353.8 929.8 L355.7 930.6 L357.5 931.4 L359.3 932.4 L361.1 933.4 L362.9 934.4 L364.7 935.5 L366.4 936.6 L368.2 937.7 L369.9 938.8 L371.6 940.0 L373.3 941.2 L375.0 942.3 L376.7 943.5 L378.3 944.7 L380.0 945.8 L381.6 947.0 L383.2 948.2 L384.8 949.4 L386.4 950.6 L388.0 951.7 L389.6 952.9 L391.2 954.1 L392.8 955.3 L394.3 956.4 L395.9 957.6 L397.5 958.8 L399.1 960.0 L400.6 961.2 L402.2 962.3 L403.8 963.5 L405.4 964.7 L406.9 965.8 L408.5 967.0 L410.1 968.2 L411.7 969.3 L413.3 970.5 L415.0 971.7 L416.6 972.8 L418.2 973.9 L419.9 975.1 L421.5 976.2 L423.2 977.4 L424.9 978.5 L426.6 979.6 L428.4 980.7 L430.1 981.8 L431.8 982.9 L433.6 983.9 L435.4 984.9 L437.2 985.9 L439.0 986.9 L440.8 987.9 L442.6 988.8 L444.4 989.7 L446.2 990.5 L448.1 991.3 L450.0 992.1 L451.8 992.8 L453.7 993.5 L455.6 994.1 L457.5 994.6 L459.4 995.2 L461.3 995.6 L463.2 996.0 L465.1 996.4 L467.1 996.7 L469.0 997.0 L470.9 997.2 L472.9 997.3 L474.8 997.5 L476.8 997.5 L478.7 997.5 L480.7 997.5 L482.6 997.5 L484.6 997.4 L486.6 997.2 L488.5 997.0 L490.5 996.8 L492.5 996.5 L494.4 996.2 L496.4 995.9 L498.4 995.5 L500.4 995.1 L502.3 994.6 L504.3 994.1 L506.2 993.6 L508.2 993.1 L510.1 992.5 L512.1 991.9 L514.0 991.2 L516.0 990.6 L517.9 989.9 L519.9 989.2 L521.8 988.5 L523.7 987.8 L525.6 987.0 L527.5 986.2 L529.4 985.5 L531.3 984.7 L533.2 983.9 L535.0 983.1 L536.9 982.3 L538.8 981.6 L540.6 980.8 L542.4 980.0 L544.2 979.2 L546.1 978.4 L547.9 977.7 L549.7 976.9 L551.5 976.2 L553.3 975.5 L555.1 974.8 L556.9 974.1 L558.7 973.4 L560.5 972.7 L562.3 972.1 L564.2 971.4 L566.0 970.8 L567.9 970.2 L569.7 969.5 L571.6 968.9 L573.5 968.3 L575.4 967.6 L577.3 967.0 L579.2 966.3 L581.1 965.6 L583.1 964.9 L585.0 964.2 L586.9 963.5 L588.8 962.7 L590.7 961.9 L592.6 961.1 L594.5 960.3 L596.3 959.4 L598.1 958.5 L599.9 957.5 L601.7 956.5 L603.4 955.5 L605.0 954.4 L606.7 953.2 L608.2 952.0 L609.8 950.8 L611.2 949.5 L612.7 948.2 L614.1 946.8 L615.4 945.4 L616.7 943.9 L618.0 942.4 L619.3 940.9 L620.5 939.3 L621.7 937.7 L622.8 936.1 L623.9 934.5 L625.0 932.8 L626.1 931.1 L627.1 929.4 L628.1 927.7 L629.1 925.9 L630.1 924.1 L631.0 922.3 L631.9 920.5 L632.9 918.7 L633.8 916.9 L634.6 915.1 L635.5 913.3 L636.4 911.5 L637.2 909.6 L638.1 907.8 L638.9 906.0 L639.8 904.1 L640.7 902.3 L641.5 900.5 L642.4 898.7 L643.3 896.9 L644.3 895.1 L645.2 893.3 L646.2 891.5 L647.2 889.7 L648.2 888.0 L649.3 886.2 L650.4 884.5 L651.5 882.8 L652.7 881.2 L654.0 879.6 L655.3 878.1 L656.6 876.6 L658.0 875.2 L659.4 873.9 L660.9 872.7 L662.5 871.5 L664.1 870.5 L665.9 869.6 L667.6 868.8 L669.5 868.2 L671.4 867.7 L673.3 867.3 L675.2 867.1 L677.1 867.0 L679.0 867.1 L680.9 867.4 L682.7 867.8 L684.5 868.3 L686.3 868.9 L688.1 869.7 L689.9 870.5 L691.6 871.5 L693.3 872.6 L694.9 873.7 L696.5 874.9 L698.1 876.2 L699.7 877.5 L701.2 878.9 L702.7 880.4 L704.2 881.9 L705.6 883.4 L707.0 885.0 L708.4 886.6 L709.8 888.2 L711.1 889.9 L712.5 891.5 L713.8 893.2 L715.1 894.8 L716.4 896.4 L717.6 898.1 L718.9 899.6 L720.1 901.2 L721.3 902.8 L722.5 904.3 L723.7 905.8 L724.9 907.3 L726.1 908.8 L727.3 910.3 L728.5 911.8 L729.7 913.3 L730.8 914.8 L732.0 916.3 L733.2 917.8 L734.3 919.3 L735.5 920.8 L736.7 922.4 L737.9 924.0 L739.0 925.5 L740.2 927.1 L741.4 928.7 L742.6 930.3 L743.8 931.9 L745.0 933.6 L746.2 935.2 L747.4 936.8 L748.6 938.4 L749.8 940.1 L751.0 941.7 L752.2 943.3 L753.4 945.0 L754.6 946.6 L755.9 948.2 L757.1 949.8 L758.3 951.5 L759.6 953.1 L760.8 954.7 L762.1 956.3 L763.3 957.9 L764.6 959.4 L765.9 961.0 L767.2 962.6 L768.4 964.1 L769.7 965.7 L771.0 967.2 L772.3 968.7 L773.6 970.2 L775.0 971.7 L776.3 973.2 L777.6 974.7 L778.9 976.2 L780.3 977.7 L781.6 979.2 L783.0 980.6 L784.4 982.1 L785.7 983.5 L787.1 985.0 L788.5 986.4 L789.9 987.8 L791.3 989.2 L792.7 990.6 L794.1 992.0 L795.5 993.4 L796.9 994.8 L798.3 996.2 L799.8 997.6 L801.2 998.9 L802.7 1000.3 L804.1 1001.6 L805.6 1003.0 L807.0 1004.3 L808.5 1005.6 L810.0 1006.9 L811.5 1008.3 L813.0 1009.6 L814.5 1010.9 L816.0 1012.2 L817.5 1013.5 L819.0 1014.8 L820.6 1016.0 L822.1 1017.3 L823.7 1018.6 L825.2 1019.8 L826.8 1021.1 L828.3 1022.3 L829.9 1023.6 L831.5 1024.8 L833.1 1026.0 L834.7 1027.2 L836.3 1028.4 L837.9 1029.6 L839.5 1030.8 L841.1 1032.0 L842.8 1033.2 L844.4 1034.3 L846.0 1035.5 L847.7 1036.6 L849.3 1037.8 L851.0 1038.9 L852.7 1040.0 L854.3 1041.1 L856.0 1042.2 L857.7 1043.3 L859.4 1044.4 L861.1 1045.4 L862.8 1046.5 L864.5 1047.5 L866.3 1048.5 L868.0 1049.6 L869.7 1050.6 L871.5 1051.6 L873.2 1052.5 L875.0 1053.5 L876.7 1054.5 L878.5 1055.4 L880.3 1056.4 L882.0 1057.3 L883.8 1058.2 L885.6 1059.1 L887.4 1060.0 L889.2 1060.8 L891.0 1061.7 L892.8 1062.5 L894.7 1063.3 L896.5 1064.2 L898.3 1065.0 L900.2 1065.7 L902.0 1066.5 L903.9 1067.3 L905.7 1068.0 L907.6 1068.7 L909.4 1069.4 L911.3 1070.1 L913.2 1070.8 L915.1 1071.4 L917.0 1072.1 L918.9 1072.7 L920.8 1073.3 L922.7 1073.8 L924.6 1074.4 L926.5 1074.9 L928.4 1075.4 L930.3 1075.9 L932.2 1076.4 L934.2 1076.8 L936.1 1077.3 L938.0 1077.7 L940.0 1078.2 L941.9 1078.6 L943.8 1079.0 L945.8 1079.4 L947.7 1079.8 L949.7 1080.2 L951.6 1080.5 L953.6 1080.9 L955.6 1081.3 L957.5 1081.6 L959.5 1082.0 L961.4 1082.4 L963.4 1082.7 L965.4 1083.1 L967.3 1083.4 L969.3 1083.8 L971.2 1084.1 L973.2 1084.5 L975.2 1084.8 L977.1 1085.2 L979.1 1085.5 L981.1 1085.9 L983.0 1086.3 L985.0 1086.6 L987.0 1087.0 L988.9 1087.4 L990.9 1087.8 L992.9 1088.2 L994.8 1088.6 L996.8 1089.0 L998.8 1089.4 L1000.7 1089.8 L1002.7 1090.2 L1004.6 1090.6 L1006.6 1091.0 L1008.6 1091.5 L1010.5 1091.9 L1012.5 1092.3 L1014.4 1092.8 L1016.4 1093.2 L1018.3 1093.7 L1020.3 1094.1 L1022.3 1094.6 L1024.2 1095.0 L1026.2 1095.5 L1028.1 1095.9 L1030.1 1096.4 L1032.0 1096.8 L1034.0 1097.3 L1036.0 1097.7 L1037.9 1098.2 L1039.9 1098.7 L1041.8 1099.1 L1043.8 1099.6 L1045.7 1100.1 L1047.7 1100.5 L1049.6 1101.0 L1051.6 1101.5 L1053.5 1101.9 L1055.5 1102.4 L1057.5 1102.9 L1059.4 1103.4 L1061.4 1103.8 L1063.3 1104.3 L1065.3 1104.8 L1067.2 1105.2 L1069.2 1105.7 L1071.1 1106.2 L1073.1 1106.6 L1075.0 1107.1 L1077.0 1107.5 L1078.9 1108.0 L1080.9 1108.4 L1082.8 1108.9 L1084.8 1109.4 L1086.7 1109.8 L1088.7 1110.2 L1090.6 1110.7 L1092.6 1111.1 L1094.6 1111.6 L1096.5 1112.0 L1098.5 1112.4 L1100.4 1112.9 L1102.4 1113.3 L1104.3 1113.7 L1106.3 1114.1 L1108.2 1114.5 L1110.2 1114.9 L1112.1 1115.4 L1114.1 1115.8 L1116.0 1116.2 L1118.0 1116.6 L1120.0 1116.9 L1121.9 1117.3 L1123.9 1117.7 L1125.8 1118.1 L1127.8 1118.5 L1129.7 1118.9 L1131.7 1119.2 L1133.7 1119.6 L1135.6 1120.0 L1137.6 1120.3 L1139.5 1120.7 L1141.5 1121.1 L1143.4 1121.4 L1145.4 1121.8 L1147.4 1122.1 L1149.3 1122.5 L1151.3 1122.8 L1153.2 1123.1 L1155.2 1123.5 L1157.2 1123.8 L1159.1 1124.1 L1161.1 1124.5 L1163.1 1124.8 L1165.0 1125.1 L1167.0 1125.4 L1169.0 1125.7 L1170.9 1126.0 L1172.9 1126.4 L1174.9 1126.7 L1176.8 1127.0 L1178.8 1127.3 L1180.8 1127.6 L1182.7 1127.9 L1184.7 1128.2 L1186.7 1128.4 L1188.6 1128.7 L1190.6 1129.0 L1192.6 1129.3 L1194.6 1129.6 L1196.5 1129.9 L1198.5 1130.1 L1200.5 1130.4 L1202.5 1130.7 L1204.4 1130.9 L1206.4 1131.2 L1208.4 1131.5 L1210.4 1131.7 L1212.3 1132.0 L1214.3 1132.2 L1216.3 1132.5 L1218.3 1132.8 L1220.3 1133.0 L1222.3 1133.2 L1224.2 1133.5 L1226.2 1133.7 L1228.2 1134.0 L1230.2 1134.2 L1232.2 1134.4 L1234.2 1134.7 L1236.2 1134.9 L1238.2 1135.1 L1240.1 1135.4 L1242.1 1135.6 L1244.1 1135.8 L1246.1 1136.0 L1248.1 1136.3 L1250.1 1136.5 L1252.1 1136.7 L1254.1 1136.9 L1256.1 1137.1 L1258.1 1137.3 L1260.1 1137.5 L1262.1 1137.7 L1264.1 1137.9 L1266.1 1138.1 L1268.1 1138.3 L1270.1 1138.5 L1272.2 1138.7 L1274.2 1138.9 L1276.2 1139.1 L1278.2 1139.3 L1280.2 1139.5 L1282.2 1139.7 L1284.2 1139.9 L1290.0 1140.1" fill="none" stroke="#000000" stroke-width="8.5" stroke-linejoin="round" stroke-linecap="butt"/>
</g>
</svg>
</body></html>
